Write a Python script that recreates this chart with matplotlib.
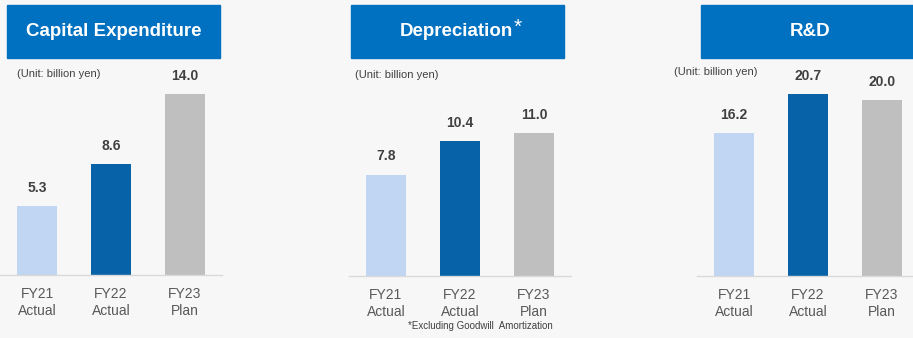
import matplotlib.pyplot as plt
from matplotlib.patches import Rectangle

plt.rcParams['font.family'] = ['Liberation Sans', 'DejaVu Sans']

# values in billion yen
periods = ['FY21\nActual', 'FY22\nActual', 'FY23\nPlan']
capex = [5.3, 8.6, 14.0]
depreciation = [7.8, 10.4, 11.0]
rnd = [16.2, 20.7, 20.0]

bar_colors = ['#c0d6f3', '#0862a8', '#bfbfbf']
title_blue = '#0070c0'
bg = '#f7f7f7'

W, H = 913, 338
fig = plt.figure(figsize=(W / 100, H / 100), dpi=100, facecolor=bg)


def box(x0, y0, x1, y1):
    # pixel box (top-left origin) -> figure rect
    return [x0 / W, 1 - y1 / H, (x1 - x0) / W, (y1 - y0) / H]


def panel(x0, base, px_per_unit, values):
    top = 60
    ax = fig.add_axes(box(x0, top, x0 + 222, base))
    ax.set_facecolor('none')
    ax.bar(range(3), values, width=0.55, color=bar_colors)
    ax.set_xlim(-0.5, 2.5)
    ax.set_ylim(0, (base - top) / px_per_unit)
    for i, v in enumerate(values):
        ax.annotate(f'{v:.1f}', (i, v), xytext=(0, 8), textcoords='offset points',
                    ha='center', va='bottom', fontsize=10, fontweight='bold',
                    color='#404040')
    ax.set_xticks(range(3))
    ax.set_xticklabels(periods, fontsize=10, color='#595959', linespacing=1.3)
    ax.tick_params(axis='x', length=0, pad=8.5)
    ax.set_yticks([])
    for s in ['top', 'left', 'right']:
        ax.spines[s].set_visible(False)
    ax.spines['bottom'].set_color('#d9d9d9')
    ax.spines['bottom'].set_linewidth(1)
    return ax


def title_box(x0, x1, text):
    fig.patches.append(Rectangle(box(x0, 5, x1, 58)[:2], (x1 - x0) / W, 53 / H,
                                 transform=fig.transFigure, color=title_blue))
    fig.text((x0 + x1) / 2 / W, 1 - 31 / H, text, color='white', fontsize=13.5,
             fontweight='bold', ha='center', va='center')


panel(0, 275, 12.95, capex)
panel(349, 276, 13.0, depreciation)
panel(697, 276, 8.8, rnd)

title_box(7, 220, 'Capital Expenditure')
fig.patches.append(Rectangle(box(351, 5, 564, 58)[:2], 213 / W, 53 / H,
                             transform=fig.transFigure, color=title_blue))
fig.text(456 / W, 1 - 31 / H, 'Depreciation', color='white', fontsize=13.5,
         fontweight='bold', ha='center', va='center')
fig.text(514 / W, 1 - 27 / H, '*', color='white', fontsize=15, ha='left', va='center')
title_box(701, 920, 'R&D')

unit = '(Unit: billion yen)'
fig.text(17 / W, 1 - 74 / H, unit, fontsize=8, color='#404040', va='center')
fig.text(355 / W, 1 - 75 / H, unit, fontsize=8, color='#404040', va='center')
fig.text(674 / W, 1 - 72 / H, unit, fontsize=8, color='#404040', va='center')

fig.text(480 / W, 1 - 326 / H, '*Excluding Goodwill  Amortization', fontsize=7,
         color='#404040', ha='center', va='center')

fig.savefig('out.png', dpi=100, facecolor=bg)
